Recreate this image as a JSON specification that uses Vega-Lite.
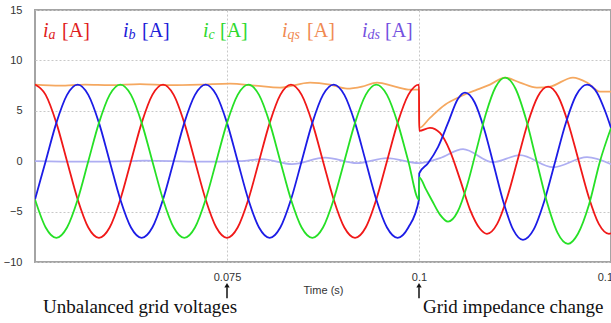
{
  "$schema": "https://vega.github.io/schema/vega-lite/v6.json",
  "autosize": {"type": "none"},
  "padding": {"left": 35, "top": 10, "right": 0, "bottom": 61},
  "width": 576,
  "height": 252,
  "background": "white",
  "config": {
    "view": {"stroke": "#a4a4a4", "strokeWidth": 2},
    "axis": {"labelFont": "Liberation Sans", "labelFontSize": 11, "labelColor": "#333333", "titleFont": "Liberation Sans", "titleFontSize": 11, "titleFontWeight": "normal", "titleColor": "#333333", "gridColor": "#c8c8c8", "gridDash": [2, 2], "gridWidth": 1, "ticks": false, "domain": false}
  },
  "datasets": {
    "cur": [
      {"s":"ds","t":0.05,"v":0},{"s":"ds","t":0.05586,"v":-0.05},{"s":"ds","t":0.06237,"v":0},{"s":"ds","t":0.06432,"v":0.05},{"s":"ds","t":0.07148,"v":-0.05},{"s":"ds","t":0.07669,"v":0},{"s":"ds","t":0.07956,"v":0.2},{"s":"ds","t":0.08346,"v":-0.3},{"s":"ds","t":0.08776,"v":0.35},{"s":"ds","t":0.09193,"v":-0.2},{"s":"ds","t":0.09583,"v":0.3},{"s":"ds","t":0.1,"v":-0.2},{"s":"ds","t":0.10273,"v":0.3},{"s":"ds","t":0.10573,"v":1.2},{"s":"ds","t":0.10964,"v":-0.1},{"s":"ds","t":0.11315,"v":0.6},{"s":"ds","t":0.11745,"v":-0.6},{"s":"ds","t":0.12188,"v":0.4},{"s":"ds","t":0.125,"v":-0.3},
      {"s":"qs","t":0.05,"v":7.6},{"s":"qs","t":0.05326,"v":7.5},{"s":"qs","t":0.05651,"v":7.6},{"s":"qs","t":0.05977,"v":7.55},{"s":"qs","t":0.06367,"v":7.65},{"s":"qs","t":0.06758,"v":7.55},{"s":"qs","t":0.07148,"v":7.6},{"s":"qs","t":0.07539,"v":7.7},{"s":"qs","t":0.07865,"v":7.5},{"s":"qs","t":0.0819,"v":7.3},{"s":"qs","t":0.08581,"v":7.8},{"s":"qs","t":0.08841,"v":7.6},{"s":"qs","t":0.09063,"v":7.2},{"s":"qs","t":0.09258,"v":7.4},{"s":"qs","t":0.09453,"v":7.8},{"s":"qs","t":0.09688,"v":7.4},{"s":"qs","t":0.09883,"v":7.1},{"s":"qs","t":0.1,"v":7.1},{"s":"qs","t":0.10003,"v":3.3},{"s":"qs","t":0.10143,"v":4.3},{"s":"qs","t":0.10339,"v":5.6},{"s":"qs","t":0.10534,"v":6.4},{"s":"qs","t":0.10755,"v":7.1},{"s":"qs","t":0.10924,"v":7.6},{"s":"qs","t":0.1112,"v":8.3},{"s":"qs","t":0.11315,"v":7.8},{"s":"qs","t":0.11536,"v":7.3},{"s":"qs","t":0.11706,"v":7.4},{"s":"qs","t":0.12005,"v":8.3},{"s":"qs","t":0.12188,"v":7.8},{"s":"qs","t":0.12357,"v":6.9},{"s":"qs","t":0.125,"v":6.9},
      {"s":"a","t":0.05,"v":7.6},{"s":"a","t":0.05139,"v":6.58},{"s":"a","t":0.05278,"v":3.8},{"s":"a","t":0.05417,"v":0},{"s":"a","t":0.05556,"v":-3.8},{"s":"a","t":0.05694,"v":-6.58},{"s":"a","t":0.05833,"v":-7.6},{"s":"a","t":0.05972,"v":-6.58},{"s":"a","t":0.06111,"v":-3.8},{"s":"a","t":0.0625,"v":0},{"s":"a","t":0.06389,"v":3.8},{"s":"a","t":0.06528,"v":6.58},
      {"s":"a","t":0.06667,"v":7.6},{"s":"a","t":0.06806,"v":6.58},{"s":"a","t":0.06944,"v":3.8},{"s":"a","t":0.07083,"v":0},{"s":"a","t":0.07222,"v":-3.8},{"s":"a","t":0.07361,"v":-6.58},{"s":"a","t":0.075,"v":-7.6},{"s":"a","t":0.07639,"v":-6.58},{"s":"a","t":0.07778,"v":-3.8},{"s":"a","t":0.07917,"v":0},{"s":"a","t":0.08056,"v":3.8},{"s":"a","t":0.08194,"v":6.58},
      {"s":"a","t":0.08333,"v":7.6},{"s":"a","t":0.08472,"v":6.58},{"s":"a","t":0.08611,"v":3.8},{"s":"a","t":0.0875,"v":0},{"s":"a","t":0.08889,"v":-3.8},{"s":"a","t":0.09028,"v":-6.58},{"s":"a","t":0.09167,"v":-7.6},{"s":"a","t":0.09306,"v":-6.58},{"s":"a","t":0.09444,"v":-3.8},{"s":"a","t":0.09583,"v":0},{"s":"a","t":0.09722,"v":3.8},{"s":"a","t":0.09861,"v":6.58},{"s":"a","t":0.1,"v":7.6},
      {"s":"a","t":0.10003,"v":3.0},{"s":"a","t":0.10143,"v":3.3},{"s":"a","t":0.10273,"v":2.8},{"s":"a","t":0.10404,"v":1.0},{"s":"a","t":0.10534,"v":-1.8},{"s":"a","t":0.10664,"v":-4.8},{"s":"a","t":0.10794,"v":-6.7},{"s":"a","t":0.10885,"v":-7.2},{"s":"a","t":0.11018,"v":-6.22},{"s":"a","t":0.1115,"v":-3.55},{"s":"a","t":0.11283,"v":0.1},{"s":"a","t":0.11415,"v":3.75},{"s":"a","t":0.11547,"v":6.42},{"s":"a","t":0.1168,"v":7.4},{"s":"a","t":0.11813,"v":6.42},{"s":"a","t":0.11944,"v":3.75},{"s":"a","t":0.12077,"v":0.1},{"s":"a","t":0.1221,"v":-3.55},{"s":"a","t":0.12341,"v":-6.22},{"s":"a","t":0.12474,"v":-7.2},{"s":"a","t":0.125,"v":-7.15},
      {"s":"b","t":0.05,"v":-3.8},{"s":"b","t":0.05139,"v":0},{"s":"b","t":0.05278,"v":3.8},{"s":"b","t":0.05417,"v":6.58},{"s":"b","t":0.05556,"v":7.6},{"s":"b","t":0.05694,"v":6.58},{"s":"b","t":0.05833,"v":3.8},{"s":"b","t":0.05972,"v":0},{"s":"b","t":0.06111,"v":-3.8},{"s":"b","t":0.0625,"v":-6.58},{"s":"b","t":0.06389,"v":-7.6},{"s":"b","t":0.06528,"v":-6.58},
      {"s":"b","t":0.06667,"v":-3.8},{"s":"b","t":0.06806,"v":0},{"s":"b","t":0.06944,"v":3.8},{"s":"b","t":0.07083,"v":6.58},{"s":"b","t":0.07222,"v":7.6},{"s":"b","t":0.07361,"v":6.58},{"s":"b","t":0.075,"v":3.8},{"s":"b","t":0.07639,"v":0},{"s":"b","t":0.07778,"v":-3.8},{"s":"b","t":0.07917,"v":-6.58},{"s":"b","t":0.08056,"v":-7.6},{"s":"b","t":0.08194,"v":-6.58},
      {"s":"b","t":0.08333,"v":-3.8},{"s":"b","t":0.08472,"v":0},{"s":"b","t":0.08611,"v":3.8},{"s":"b","t":0.0875,"v":6.58},{"s":"b","t":0.08889,"v":7.6},{"s":"b","t":0.09028,"v":6.58},{"s":"b","t":0.09167,"v":3.8},{"s":"b","t":0.09306,"v":0},{"s":"b","t":0.09444,"v":-3.8},{"s":"b","t":0.09583,"v":-6.58},{"s":"b","t":0.09722,"v":-7.6},{"s":"b","t":0.09861,"v":-6.58},{"s":"b","t":0.1,"v":-3.8},
      {"s":"b","t":0.10003,"v":-1.2},{"s":"b","t":0.10117,"v":-0.2},{"s":"b","t":0.10247,"v":1.4},{"s":"b","t":0.10378,"v":3.8},{"s":"b","t":0.10508,"v":6.2},{"s":"b","t":0.10599,"v":6.8},{"s":"b","t":0.10725,"v":5.82},{"s":"b","t":0.1085,"v":3.15},{"s":"b","t":0.10977,"v":-0.5},{"s":"b","t":0.11103,"v":-4.15},{"s":"b","t":0.11228,"v":-6.82},{"s":"b","t":0.11354,"v":-7.8},{"s":"b","t":0.11494,"v":-6.77},{"s":"b","t":0.11632,"v":-3.95},{"s":"b","t":0.11771,"v":-0.1},{"s":"b","t":0.1191,"v":3.75},{"s":"b","t":0.12048,"v":6.57},{"s":"b","t":0.12188,"v":7.6},{"s":"b","t":0.12318,"v":6.8},{"s":"b","t":0.12422,"v":5.0},{"s":"b","t":0.125,"v":3.3},
      {"s":"c","t":0.05,"v":-3.8},{"s":"c","t":0.05139,"v":-6.58},{"s":"c","t":0.05278,"v":-7.6},{"s":"c","t":0.05417,"v":-6.58},{"s":"c","t":0.05556,"v":-3.8},{"s":"c","t":0.05694,"v":0},{"s":"c","t":0.05833,"v":3.8},{"s":"c","t":0.05972,"v":6.58},{"s":"c","t":0.06111,"v":7.6},{"s":"c","t":0.0625,"v":6.58},{"s":"c","t":0.06389,"v":3.8},{"s":"c","t":0.06528,"v":0},
      {"s":"c","t":0.06667,"v":-3.8},{"s":"c","t":0.06806,"v":-6.58},{"s":"c","t":0.06944,"v":-7.6},{"s":"c","t":0.07083,"v":-6.58},{"s":"c","t":0.07222,"v":-3.8},{"s":"c","t":0.07361,"v":0},{"s":"c","t":0.075,"v":3.8},{"s":"c","t":0.07639,"v":6.58},{"s":"c","t":0.07778,"v":7.6},{"s":"c","t":0.07917,"v":6.58},{"s":"c","t":0.08056,"v":3.8},{"s":"c","t":0.08194,"v":0},
      {"s":"c","t":0.08333,"v":-3.8},{"s":"c","t":0.08472,"v":-6.58},{"s":"c","t":0.08611,"v":-7.6},{"s":"c","t":0.0875,"v":-6.58},{"s":"c","t":0.08889,"v":-3.8},{"s":"c","t":0.09028,"v":0},{"s":"c","t":0.09167,"v":3.8},{"s":"c","t":0.09306,"v":6.58},{"s":"c","t":0.09444,"v":7.6},{"s":"c","t":0.09583,"v":6.58},{"s":"c","t":0.09722,"v":3.8},{"s":"c","t":0.09861,"v":0},{"s":"c","t":0.1,"v":-3.8},
      {"s":"c","t":0.10003,"v":-1.6},{"s":"c","t":0.10091,"v":-2.8},{"s":"c","t":0.10169,"v":-3.9},{"s":"c","t":0.10273,"v":-5.3},{"s":"c","t":0.10378,"v":-6.0},{"s":"c","t":0.10501,"v":-5.04},{"s":"c","t":0.10625,"v":-2.43},{"s":"c","t":0.10749,"v":1.15},{"s":"c","t":0.10872,"v":4.73},{"s":"c","t":0.10996,"v":7.34},{"s":"c","t":0.1112,"v":8.3},{"s":"c","t":0.11257,"v":7.19},{"s":"c","t":0.11393,"v":4.18},{"s":"c","t":0.1153,"v":0.05},{"s":"c","t":0.11667,"v":-4.08},{"s":"c","t":0.11803,"v":-7.09},{"s":"c","t":0.1194,"v":-8.2},{"s":"c","t":0.1207,"v":-7.2},{"s":"c","t":0.12214,"v":-4.3},{"s":"c","t":0.12357,"v":0},{"s":"c","t":0.125,"v":3.3}
    ],
    "lab": [
      {"s":"a","p":"m","t":0.05104,"txt":"i"},{"s":"a","p":"s","t":0.05176,"txt":"a"},{"s":"a","p":"u","t":0.05352,"txt":"[A]"},
      {"s":"b","p":"m","t":0.06146,"txt":"i"},{"s":"b","p":"s","t":0.06217,"txt":"b"},{"s":"b","p":"u","t":0.06393,"txt":"[A]"},
      {"s":"c","p":"m","t":0.07188,"txt":"i"},{"s":"c","p":"s","t":0.07259,"txt":"c"},{"s":"c","p":"u","t":0.07409,"txt":"[A]"},
      {"s":"qs","p":"m","t":0.08216,"txt":"i"},{"s":"qs","p":"s","t":0.08288,"txt":"qs"},{"s":"qs","p":"u","t":0.08542,"txt":"[A]"},
      {"s":"ds","p":"m","t":0.09258,"txt":"i"},{"s":"ds","p":"s","t":0.0933,"txt":"ds"},{"s":"ds","p":"u","t":0.09557,"txt":"[A]"}
    ],
    "ann": [
      {"t":0.05104,"txt":"Unbalanced grid voltages"},
      {"t":0.10052,"txt":"Grid impedance change"}
    ],
    "arr": [{"t":0.075},{"t":0.1}]
  },
  "resolve": {"scale": {"color": "independent"}},
  "layer": [
    {
      "data": {"name": "cur"},
      "mark": {"type": "line", "interpolate": "monotone", "clip": true},
      "encoding": {
        "x": {"field": "t", "type": "quantitative", "scale": {"domain": [0.05, 0.125], "nice": false, "zero": false},
              "axis": {"values": [0.075, 0.1, 0.125], "format": ".3~f", "grid": true, "labelFlush": false, "labelPadding": 9, "title": "Time (s)", "titlePadding": 2}},
        "y": {"field": "v", "type": "quantitative", "scale": {"domain": [-10, 15], "nice": false, "zero": false},
              "axis": {"values": [-10, -5, 0, 5, 10, 15], "grid": true, "labelPadding": 13, "title": null}},
        "color": {"field": "s", "type": "nominal", "legend": null,
                  "scale": {"domain": ["a", "b", "c", "qs", "ds"], "range": ["#f01818", "#1c1ce6", "#26e026", "#f5a860", "#aeaef2"]}},
        "strokeWidth": {"field": "s", "type": "nominal", "legend": null,
                  "scale": {"domain": ["a", "b", "c", "qs", "ds"], "range": [1.8, 1.8, 1.8, 1.4, 1.4]}}
      }
    },
    {
      "data": {"name": "lab"},
      "transform": [{"filter": "datum.p == 'm'"}],
      "mark": {"type": "text", "font": "Liberation Serif", "fontStyle": "italic", "fontSize": 20, "align": "left", "baseline": "alphabetic"},
      "encoding": {
        "x": {"field": "t", "type": "quantitative"},
        "y": {"datum": 12.35},
        "text": {"field": "txt"},
        "color": {"field": "s", "type": "nominal", "legend": null,
                  "scale": {"domain": ["a", "b", "c", "qs", "ds"], "range": ["#e01c1c", "#2020d8", "#2ed82e", "#f08a52", "#7452e0"]}}
      }
    },
    {
      "data": {"name": "lab"},
      "transform": [{"filter": "datum.p == 's'"}],
      "mark": {"type": "text", "font": "Liberation Serif", "fontStyle": "italic", "fontSize": 14, "align": "left", "baseline": "alphabetic"},
      "encoding": {
        "x": {"field": "t", "type": "quantitative"},
        "y": {"datum": 12.1},
        "text": {"field": "txt"},
        "color": {"field": "s", "type": "nominal", "legend": null,
                  "scale": {"domain": ["a", "b", "c", "qs", "ds"], "range": ["#e01c1c", "#2020d8", "#2ed82e", "#f08a52", "#7452e0"]}}
      }
    },
    {
      "data": {"name": "lab"},
      "transform": [{"filter": "datum.p == 'u'"}],
      "mark": {"type": "text", "font": "Liberation Serif", "fontSize": 20, "align": "left", "baseline": "alphabetic"},
      "encoding": {
        "x": {"field": "t", "type": "quantitative"},
        "y": {"datum": 12.35},
        "text": {"field": "txt"},
        "color": {"field": "s", "type": "nominal", "legend": null,
                  "scale": {"domain": ["a", "b", "c", "qs", "ds"], "range": ["#e01c1c", "#2020d8", "#2ed82e", "#f08a52", "#7452e0"]}}
      }
    },
    {
      "data": {"name": "ann"},
      "mark": {"type": "text", "font": "Liberation Serif", "fontSize": 19, "align": "left", "baseline": "alphabetic", "color": "#111111"},
      "encoding": {
        "x": {"field": "t", "type": "quantitative"},
        "y": {"datum": -15.1},
        "text": {"field": "txt"}
      }
    },
    {
      "data": {"name": "arr"},
      "mark": {"type": "rule", "color": "#111111", "strokeWidth": 1.5},
      "encoding": {
        "x": {"field": "t", "type": "quantitative"},
        "y": {"datum": -12.5},
        "y2": {"datum": -13.6}
      }
    },
    {
      "data": {"name": "arr"},
      "mark": {"type": "point", "shape": "triangle-up", "filled": true, "size": 28, "color": "#111111", "opacity": 1},
      "encoding": {
        "x": {"field": "t", "type": "quantitative"},
        "y": {"datum": -12.3}
      }
    }
  ]
}
